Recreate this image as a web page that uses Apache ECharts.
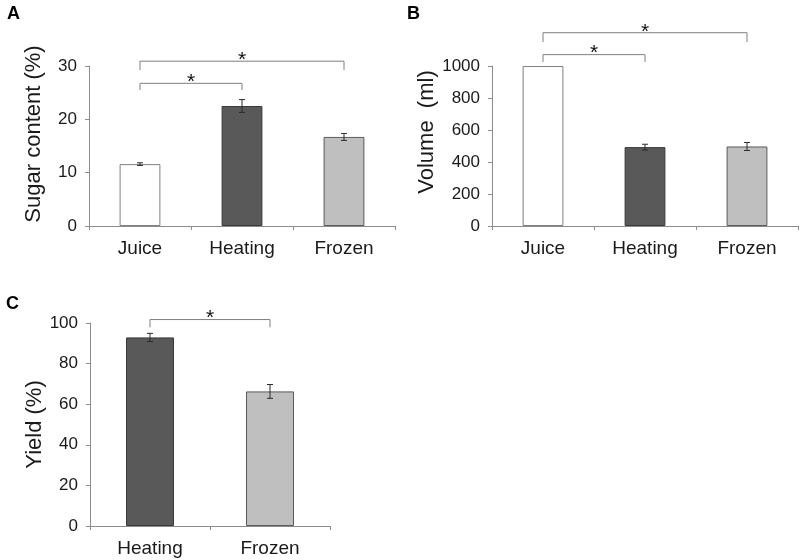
<!DOCTYPE html>
<html>
<head>
<meta charset="utf-8">
<script src="https://cdn.jsdelivr.net/npm/echarts@6/dist/echarts.min.js"></script>
<style>
  html, body { margin: 0; padding: 0; background: #fff; }
  #chart { width: 800px; height: 560px; }
</style>
</head>
<body>
<div id="chart"></div>
<script>
// panel A / B categories
const categoriesAB = ['Juice', 'Heating', 'Frozen'];
const sugarValues = [11.6, 22.5, 16.7];
const sugarErrors = [0.25, 1.2, 0.65];
const volumeValues = [1000, 493, 497];
const volumeErrors = [0, 18, 25];
// panel C
const categoriesC = ['Heating', 'Frozen'];
const yieldValues = [92.9, 66.3];
const yieldErrors = [2.0, 3.4];

// significance brackets: [from, to, level, legEnd]
const sugarBrackets = [[0, 1, 26.75, 25.5], [0, 2, 30.9, 29.25]];
const volumeBrackets = [[0, 1, 1071, 1025], [0, 2, 1208, 1150]];
const yieldBrackets = [[0, 1, 101.7, 97.9]];

const fillColors = { Juice: '#ffffff', Heating: '#595959', Frozen: '#bfbfbf' };
const borderColors = { Juice: '#7f7f7f', Heating: '#3a3a3a', Frozen: '#5a5a5a' };

const FONT = 'Liberation Sans, Arial, sans-serif';
const AXIS_COLOR = '#8c8c8c';

const chart = echarts.init(document.getElementById('chart'));

function barData(cats, vals) {
    return vals.map((v, i) => ({
        value: v,
        itemStyle: { color: fillColors[cats[i]], borderColor: borderColors[cats[i]], borderWidth: 1 }
    }));
}

function errorSeries(idx, vals, errs) {
    return {
        type: 'custom',
        xAxisIndex: idx, yAxisIndex: idx,
        data: vals.map((v, i) => [i, v, errs[i]]),
        z: 5,
        renderItem: function (params, api) {
            const i = api.value(0), v = api.value(1), e = api.value(2);
            if (!e) return;
            const top = api.coord([i, v + e]);
            const bot = api.coord([i, v - e]);
            const w = 3;
            const st = { stroke: '#2b2b2b', lineWidth: 1 };
            return {
                type: 'group',
                children: [
                    { type: 'line', shape: { x1: top[0], y1: top[1], x2: bot[0], y2: bot[1] }, style: st },
                    { type: 'line', shape: { x1: top[0] - w, y1: top[1], x2: top[0] + w, y2: top[1] }, style: st },
                    { type: 'line', shape: { x1: bot[0] - w, y1: bot[1], x2: bot[0] + w, y2: bot[1] }, style: st }
                ]
            };
        }
    };
}

function bracketSeries(idx, brackets) {
    return {
        type: 'custom',
        xAxisIndex: idx, yAxisIndex: idx,
        data: brackets,
        clip: false,
        z: 6,
        renderItem: function (params, api) {
            const a = api.value(0), b = api.value(1), lvl = api.value(2), leg = api.value(3);
            const p1 = api.coord([a, leg]);
            const p2 = api.coord([a, lvl]);
            const p3 = api.coord([b, lvl]);
            const p4 = api.coord([b, leg]);
            return {
                type: 'group',
                children: [
                    {
                        type: 'polyline',
                        shape: { points: [[p1[0], p1[1]], [p2[0], p2[1]], [p3[0], p3[1]], [p4[0], p4[1]]] },
                        style: { stroke: '#7f7f7f', lineWidth: 1, fill: null }
                    },
                    {
                        type: 'text',
                        style: {
                            text: '*', x: (p2[0] + p3[0]) / 2, y: p2[1] - 1,
                            align: 'center', verticalAlign: 'middle',
                            font: '21px ' + FONT, fill: '#111'
                        }
                    }
                ]
            };
        }
    };
}

function xAxisDef(idx, cats) {
    return {
        type: 'category', gridIndex: idx, data: cats,
        axisLine: { lineStyle: { color: AXIS_COLOR, width: 1 } },
        axisTick: { show: true, length: 4, lineStyle: { color: AXIS_COLOR } },
        axisLabel: { fontSize: 19, color: '#1a1a1a', fontFamily: FONT, margin: 13 }
    };
}

function yAxisDef(idx, name, max, interval, gap, pad) {
    return {
        type: 'value', gridIndex: idx, min: 0, max: max, interval: interval,
        name: name, nameLocation: 'middle', nameGap: gap,
        nameTextStyle: { fontSize: 22, color: '#1a1a1a', fontFamily: FONT, padding: pad },
        axisLine: { show: true, lineStyle: { color: AXIS_COLOR, width: 1 } },
        axisTick: { show: true, length: 4, lineStyle: { color: AXIS_COLOR } },
        axisLabel: { fontSize: 17, color: '#1a1a1a', fontFamily: FONT, margin: 12, formatter: v => String(v) },
        splitLine: { show: false }
    };
}

const option = {
    animation: false,
    backgroundColor: '#fff',
    title: [
        { text: 'A', left: 2, top: 0, textStyle: { fontSize: 18, fontWeight: 'bold', color: '#000', fontFamily: FONT } },
        { text: 'B', left: 402, top: 0, textStyle: { fontSize: 18, fontWeight: 'bold', color: '#000', fontFamily: FONT } },
        { text: 'C', left: 1, top: 290, textStyle: { fontSize: 18, fontWeight: 'bold', color: '#000', fontFamily: FONT } }
    ],
    grid: [
        { left: 89, top: 66, width: 306, height: 160 },
        { left: 492, top: 66, width: 306, height: 160 },
        { left: 90, top: 323, width: 240, height: 203 }
    ],
    xAxis: [xAxisDef(0, categoriesAB), xAxisDef(1, categoriesAB), xAxisDef(2, categoriesC)],
    yAxis: [
        yAxisDef(0, 'Sugar content (%)', 30, 10, 44, [0, 0, 0, 24]),
        yAxisDef(1, 'Volume  (ml)', 1000, 200, 48, [0, 0, 0, 28]),
        yAxisDef(2, 'Yield (%)', 100, 20, 44, 0)
    ],
    series: [
        { type: 'bar', xAxisIndex: 0, yAxisIndex: 0, barWidth: '40%', data: barData(categoriesAB, sugarValues) },
        { type: 'bar', xAxisIndex: 1, yAxisIndex: 1, barWidth: '40%', data: barData(categoriesAB, volumeValues) },
        { type: 'bar', xAxisIndex: 2, yAxisIndex: 2, barWidth: '40%', data: barData(categoriesC, yieldValues) },
        errorSeries(0, sugarValues, sugarErrors),
        errorSeries(1, volumeValues, volumeErrors),
        errorSeries(2, yieldValues, yieldErrors),
        bracketSeries(0, sugarBrackets),
        bracketSeries(1, volumeBrackets),
        bracketSeries(2, yieldBrackets)
    ]
};

chart.setOption(option);
</script>
</body>
</html>
